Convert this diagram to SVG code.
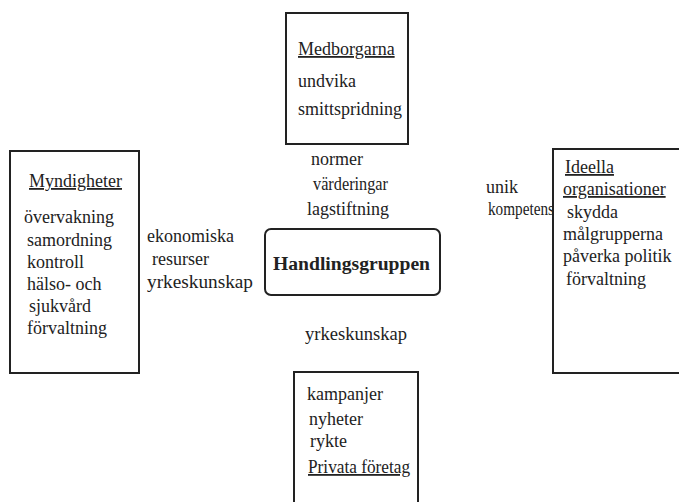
<svg xmlns="http://www.w3.org/2000/svg" width="679" height="502" viewBox="0 0 679 502">
<style>
.box{fill:#fff;stroke:#222;stroke-width:2}
text{font-family:"Liberation Serif","DejaVu Serif","Times New Roman",serif;font-size:18px;fill:#222}
.h{text-decoration:underline}
.b{font-weight:bold}
</style>
<rect width="679" height="502" fill="#fff"/>
<g id="medborgarna">
<rect class="box" x="286" y="13" width="122" height="131"/>
<text class="h" x="298" y="55">Medborgarna</text>
<text x="298" y="87">undvika</text>
<text x="298" y="115">smittspridning</text>
</g>
<g id="myndigheter">
<rect class="box" x="10" y="151" width="129" height="222"/>
<text class="h" x="29" y="187">Myndigheter</text>
<text x="24" y="223">övervakning</text>
<text x="27" y="246">samordning</text>
<text x="27" y="268">kontroll</text>
<text x="27" y="290">hälso- och</text>
<text x="29" y="312">sjukvård</text>
<text x="27" y="334">förvaltning</text>
</g>
<g id="handlingsgruppen">
<rect class="box" x="265" y="229" width="175" height="66" rx="6"/>
<text class="b" x="273" y="270" textLength="157" lengthAdjust="spacingAndGlyphs">Handlingsgruppen</text>
</g>
<g id="ideella">
<rect class="box" x="553" y="149" width="140" height="224"/>
<text class="h" x="565" y="173">Ideella</text>
<text class="h" x="563" y="195">organisationer</text>
<text x="567" y="218">skydda</text>
<text x="563" y="240">målgrupperna</text>
<text x="563" y="262">påverka politik</text>
<text x="566" y="285">förvaltning</text>
</g>
<g id="privata">
<rect class="box" x="294" y="372" width="124" height="140"/>
<text x="307" y="400">kampanjer</text>
<text x="309" y="425">nyheter</text>
<text x="310" y="447">rykte</text>
<text class="h" x="308" y="473" textLength="102" lengthAdjust="spacingAndGlyphs">Privata företag</text>
</g>
<g id="connectors">
<text x="311" y="165">normer</text>
<text x="313" y="190" textLength="75" lengthAdjust="spacingAndGlyphs">värderingar</text>
<text x="307" y="215">lagstiftning</text>
<text x="147" y="242">ekonomiska</text>
<text x="152" y="265">resurser</text>
<text x="147" y="288" textLength="106" lengthAdjust="spacingAndGlyphs">yrkeskunskap</text>
<text x="486" y="193">unik</text>
<text x="488" y="215" font-size="17" textLength="66" lengthAdjust="spacingAndGlyphs">kompetens</text>
<text x="305" y="340" textLength="102" lengthAdjust="spacingAndGlyphs">yrkeskunskap</text>
</g>
</svg>
